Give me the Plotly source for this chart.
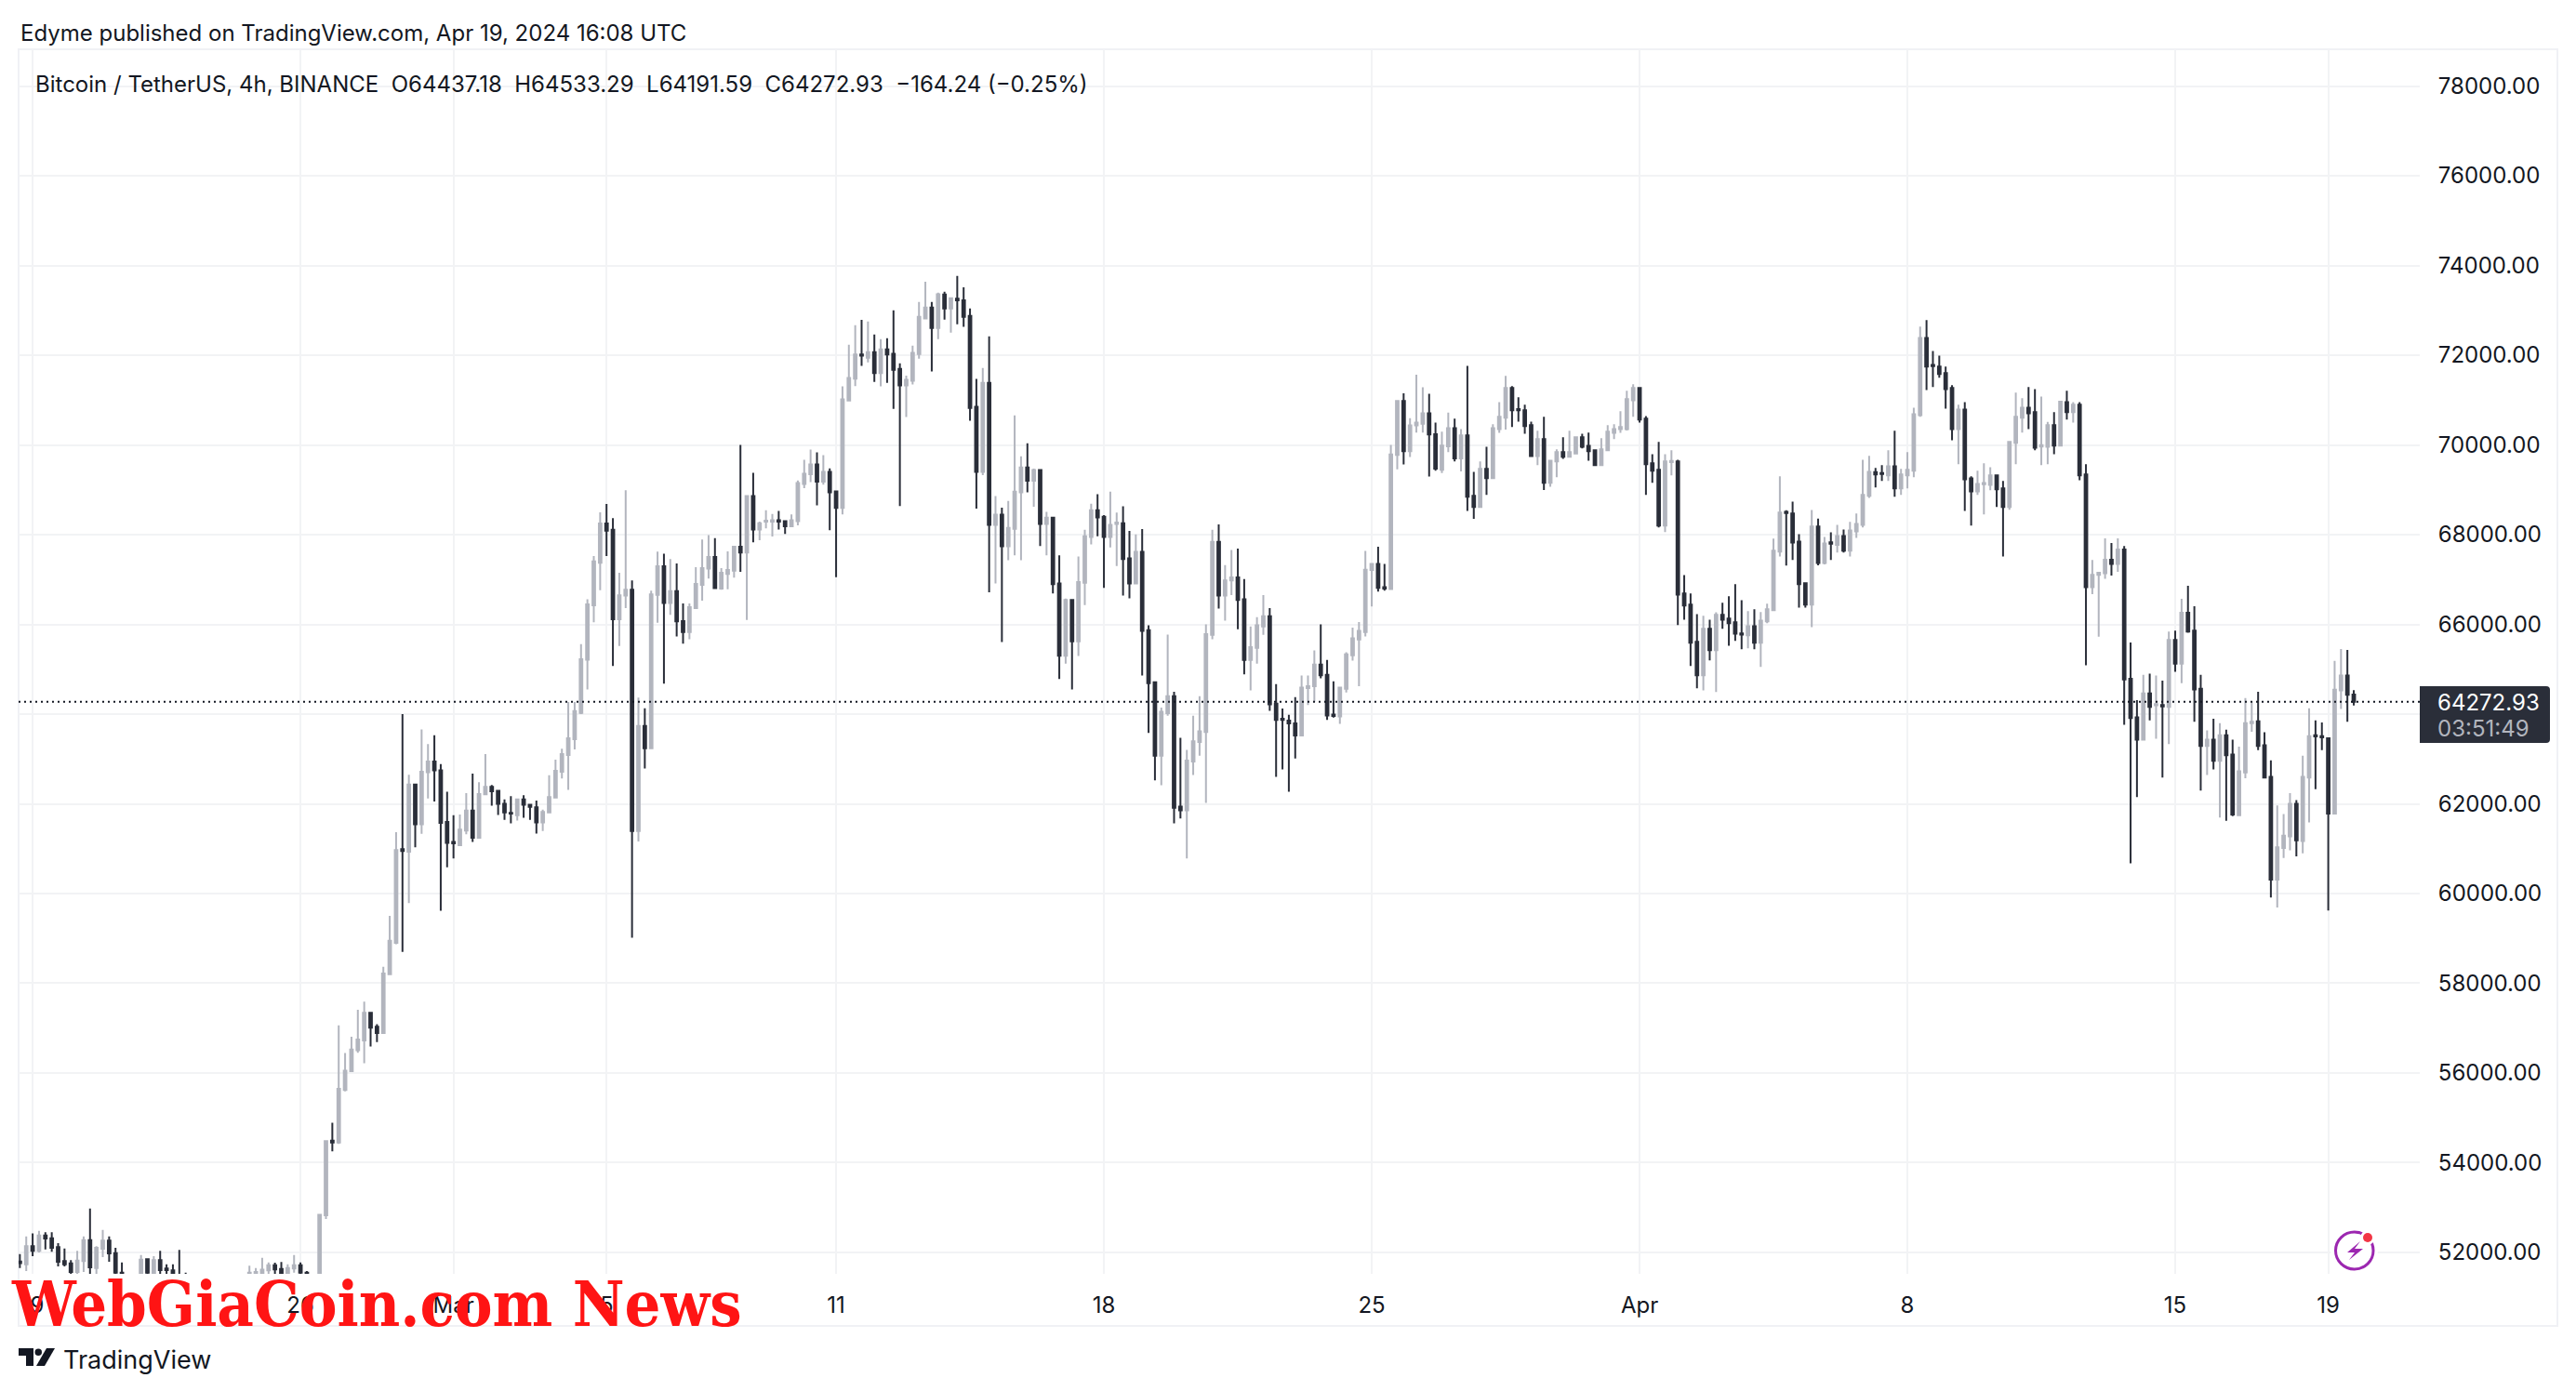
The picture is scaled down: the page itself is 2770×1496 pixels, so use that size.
import pandas as pd
import plotly.graph_objects as go

publish_note = "Edyme published on TradingView.com, Apr 19, 2024 16:08 UTC"
legend_note = "Bitcoin / TetherUS, 4h, BINANCE  O64437.18  H64533.29  L64191.59  C64272.93  \u2212164.24 (\u22120.25%)"
countdown = "03:51:49"
first_candle = "2024-02-18 16:00"

opens = [
51800,51738,52138,52034,52379,52317,52117,51807,51758,51565,
51807,52276,51655,52083,52262,51986,51550,51480,51350,51400,
51848,51450,51827,51641,51600,51480,51490,51440,51200,51320,
51250,51100,51220,51350,51200,51320,51300,51450,51450,51600,
51717,51634,51480,51641,51717,51550,51490,51450,52828,54490,
54448,55620,56040,56510,56725,57340,57030,56890,58200,58900,
60990,60930,62430,61545,62705,62945,62745,61595,61150,61080,
61405,61850,61245,62210,62380,62290,62000,61800,61745,62100,
61980,61920,61585,61810,62140,62715,63090,63440,64025,65215,
66425,67375,68250,68110,66115,66640,66770,61395,63735,63240,
66660,67295,66475,66740,66075,65830,66365,66880,67245,67505,
66800,67125,67195,67730,67600,68860,68115,68290,68290,68320,
68300,68185,68300,69130,69345,69565,69180,69400,68965,68595,
70990,71475,72015,71945,72070,71600,72130,72030,71695,71325,
71430,72025,72820,73060,72605,73350,73040,73260,73225,72875,
70850,69400,71385,68220,68445,67740,68130,68945,69500,69200,
69440,68240,68380,66910,65300,66545,65620,66930,67950,68545,
68400,67950,68240,68255,67470,66910,67615,65870,64710,63075,
64020,64400,61940,61855,62945,63380,63600,65765,67840,66640,
66980,67045,66560,65205,65475,65955,66180,64235,63895,63855,
63795,63525,64580,64620,65105,64875,63990,63950,64565,65310,
65665,65830,67210,67345,66830,66790,69775,70980,69860,70435,
70470,70705,70240,69445,69970,70375,69700,70210,68865,68615,
69465,69260,70355,70605,71270,70800,70770,70440,69750,70130,
69155,69630,69840,69735,69810,70170,69980,69880,69550,69880,
70270,70355,70355,70995,71270,70585,69590,69445,68200,69615,
69630,66690,66440,65610,64865,65900,65425,66210,66130,66045,
65800,65755,65960,65590,66065,66315,67620,68510,68470,67845,
66915,66440,68180,67370,67830,67770,67970,67640,68075,68220,
68865,69395,69375,69320,69525,69030,69320,69425,70665,72385,
71780,71745,71600,71270,70355,70790,69255,68965,69125,69110,
69320,69030,68615,70045,70605,70830,70730,69965,69960,70440,
69985,70955,70730,70895,69340,66830,67105,67140,67440,67345,
67670,64790,63925,63430,64460,64195,64200,64160,65655,65125,
66260,65860,64565,63290,63430,62960,63530,63100,61745,62700,
63800,63840,63305,62600,60310,61015,61275,62000,61170,62585,
63530,63510,63460,61780,64530,64860,64437.18]

highs = [
51965,52358,52427,52483,52448,52448,52207,52090,51827,52034,
52358,52979,52138,52503,52358,52103,51779,51500,51500,51945,
51862,51917,52034,51738,51738,52055,51550,51500,51380,51450,
51400,51300,51420,51480,51400,51460,51703,51655,51883,51779,
51772,51786,51738,51945,51779,51586,51510,52860,54500,54893,
57062,56446,56810,57410,57590,57360,57090,58370,59500,61370,
64000,62650,62450,63660,63330,63530,62885,62270,61745,61760,
62240,62675,62480,63110,62420,62290,62100,62170,62100,62190,
61980,62070,61870,62635,62985,63230,64270,64270,65560,66560,
67525,68495,68685,68370,67150,68990,66980,64370,64130,66750,
67620,67575,67455,67355,66465,66465,67275,67890,67990,67920,
67255,67625,67750,70000,68870,69380,68290,68545,68460,68530,
68320,68450,69205,69670,69895,69835,69770,69475,68965,71305,
72235,72670,72790,72750,72460,72360,72380,73000,71820,71545,
72215,73185,73640,73185,73395,73415,73290,73765,73515,73040,
71470,71715,72420,68860,68600,68750,70660,69745,70036,69470,
69440,68510,68395,67540,66575,66560,67515,68110,68690,68900,
68435,68960,68490,68630,68085,68005,68125,65980,64725,64145,
65770,64495,63470,63200,63965,64400,66000,68110,68230,67320,
67660,67690,67010,65955,66160,66655,66365,64670,64125,63985,
64380,64860,64860,65420,66000,65205,64730,64590,65380,65930,
66050,67635,67345,67730,67345,70000,71000,71150,70595,71565,
71285,71140,70495,70295,70720,70585,70355,71760,69400,69630,
69960,70460,70955,71540,71310,71060,70895,70520,70315,70625,
69650,69900,70170,70315,70185,70250,70275,69880,70150,70440,
70460,70750,71205,71350,71270,70645,69795,70065,69795,69880,
69670,67100,66690,66230,66190,66105,66270,66480,66625,66895,
66540,66295,66335,66275,66460,67910,69300,68545,68735,68010,
66915,68550,68360,67950,68050,68220,68115,68285,68470,69670,
69755,69485,69550,69880,70315,69465,69840,70830,72635,72780,
72095,71990,71745,71330,70895,70955,69300,69425,69590,69505,
69320,69195,70085,71165,71040,71290,71245,71080,70515,70730,
70980,71205,70955,70955,69570,67435,67155,67915,67815,67915,
67745,65595,64310,64875,64900,64860,64745,65840,65860,66570,
66860,66405,64875,63635,63895,63800,63655,63430,63275,64360,
64285,64495,63595,62970,61965,61770,62240,62085,63075,64130,
63860,63815,63460,65185,65450,65430,64533.29]

lows = [
51655,51586,51917,52000,52069,52014,51690,51690,51500,51450,
51565,51300,51500,51897,51793,51300,51300,51200,51250,51300,
51450,51350,51450,51450,51300,51300,51300,51100,51050,51150,
51000,50900,51100,51150,51050,51180,51200,51300,51350,51500,
51500,51350,51300,51550,51450,51300,51300,51400,52745,54255,
54420,55590,56020,56450,56220,56590,56690,56880,58180,58870,
58700,59790,61030,61330,62120,62050,59615,60585,60780,61060,
61320,61150,61240,62200,61960,61750,61640,61565,61625,61690,
61640,61335,61395,61800,62120,62565,62310,63210,64000,64550,
66045,66760,67525,65075,65520,66365,59015,61160,62785,63230,
66035,64680,66215,65730,65570,65670,66350,66530,67020,66810,
66770,66780,67040,67170,66100,67830,67875,68140,67960,68115,
68015,68180,68205,69035,69170,68655,69115,68100,67050,68450,
70990,71310,71760,71840,71405,71305,71385,70805,68635,70620,
71345,71925,72810,71635,72360,72795,72505,72690,72630,70540,
68580,69325,66715,66910,65607,67430,67540,67430,68945,68620,
67745,67540,66690,64780,65125,64550,65295,66430,67780,67965,
66815,67715,67300,66640,66580,66900,64860,63580,62525,62415,
63965,61565,61675,60780,62640,63075,62020,65670,66350,66085,
66655,65890,64885,64530,65125,65765,64070,62600,62765,62270,
63010,63510,64200,64275,64800,63870,63920,63780,64480,65190,
64620,65730,66400,66730,66750,66780,69455,69565,69730,70275,
70275,69295,69425,69375,69840,69630,69410,68530,68350,68610,
68885,69250,70270,70340,70400,70520,70250,69735,69550,68995,
69070,69280,69690,69730,69790,69920,69650,69530,69545,69860,
70130,70270,70320,70625,70500,68885,69155,68160,68055,69320,
65985,66105,65070,64575,64530,65195,64490,65900,65525,65630,
65445,65465,65445,65050,66025,66315,67515,67310,67435,66375,
66375,65940,67315,67335,67435,67600,67600,67515,67930,68160,
68820,69050,69195,69195,68845,68885,69030,69280,70625,71225,
71290,71495,70810,70105,69570,68530,68200,68885,68450,68990,
68615,67515,68555,69570,70275,70355,69880,69550,69570,69795,
69980,70565,70500,69215,65090,66675,65725,67015,67090,67170,
63760,60675,62150,63415,63860,63450,62585,63330,64945,64690,
65815,63830,62295,62640,62765,61695,61620,61725,61725,62570,
63605,63195,62570,59910,59690,60795,60965,60830,60895,61585,
62325,63195,59620,61760,64115,63830,64191.59]

closes = [
51760,52138,52034,52379,52310,52103,51793,51738,51565,51820,
52276,51669,52103,52262,51979,51550,51500,51350,51480,51841,
51550,51827,51607,51607,51500,51400,51440,51200,51320,51250,
51100,51220,51350,51200,51320,51400,51550,51565,51614,51717,
51621,51500,51655,51717,51550,51490,51450,52841,54483,54450,
55650,56050,56525,56745,57340,57010,56890,58220,58950,60970,
60950,62430,61545,62715,62945,62745,61575,61130,61120,61425,
61850,61245,62220,62380,62280,62000,61810,61780,62100,61980,
61930,61585,61820,62150,62735,63110,63460,64065,65225,66445,
67405,68250,68090,66115,66650,66770,61395,63735,63240,66670,
67295,66475,66740,66065,65830,66385,66900,67255,67505,66810,
67150,67215,67730,67600,68860,68115,68255,68310,68320,68290,
68185,68320,69150,69360,69565,69180,69400,68945,68595,71015,
71490,72015,71990,72070,71600,72130,72015,71675,71325,71450,
72050,72855,73060,72605,73360,73040,73270,73225,72855,70825,
69400,71385,68220,68445,67740,68150,68960,69500,69200,69440,
68240,68380,66895,65300,66545,65620,66945,67965,68545,68385,
67950,68220,68270,67455,66910,67615,65855,64690,63075,64050,
64400,61910,61855,62965,63395,63615,65780,67840,66640,66980,
67045,66545,65205,65490,65980,66180,64220,63870,63870,63795,
63525,64590,64620,65105,64865,63970,63960,64590,65330,65690,
65855,67220,67345,66815,66800,69790,70980,69860,70435,70495,
70705,70235,69470,69985,70375,69700,70210,68845,68615,69465,
69260,70375,70625,71270,70770,70770,70420,69750,70130,69155,
69650,69840,69735,69840,70170,69960,69860,69550,69900,70295,
70355,70400,71020,71270,70565,69570,69425,68200,69630,69645,
66665,66420,65590,64865,65900,65425,66210,66105,66025,65795,
65770,65960,65590,66085,66335,67640,68490,68480,67825,66895,
66440,68180,67370,67805,67800,67970,67640,68095,68240,68885,
69400,69340,69350,69525,69030,69340,69445,70685,72385,71745,
71755,71580,71245,70355,70790,69235,68965,69130,69150,69320,
69010,68615,70065,70625,70830,70705,69940,69995,70440,69985,
70965,70730,70895,69320,66830,67105,67150,67440,67345,67670,
64770,63910,63430,64460,64160,64225,64170,65655,65125,66260,
65840,64550,63290,63430,62960,63530,63085,61760,62725,63800,
63830,63290,62585,60310,61030,61290,62000,61185,62600,63510,
63500,63480,61780,64545,64860,64430,64272.93]

tick_dates = ["2024-02-19", "2024-02-26", "2024-03-01", "2024-03-05", "2024-03-11", "2024-03-18",
              "2024-03-25", "2024-04-01", "2024-04-08", "2024-04-15", "2024-04-19"]
tick_labels = ["19", "26", "Mar", "5", "11", "18", "25", "Apr", "8", "15", "19"]
price_ticks = list(range(52000, 78001, 2000))

INK = "#131722"
DARK = "#2a2e39"
LIGHT = "#b2b5be"
GRID = "#f2f3f5"
FRAME = "#f0f1f5"
FONT = "Inter"

# page geometry of the plot area
W, H = 2770, 1496
L, R, T, B = 20, 2602, 53, 1370
def px(x): return (x - L) / (R - L)
def py(y): return (B - y) / (B - T)

dates = pd.date_range(first_candle, periods=len(opens), freq="4h")

fig = go.Figure(go.Candlestick(
    x=dates, open=opens, high=highs, low=lows, close=closes,
    increasing=dict(line=dict(color=LIGHT, width=2), fillcolor=LIGHT),
    decreasing=dict(line=dict(color=DARK, width=2), fillcolor=DARK),
    whiskerwidth=0, showlegend=False, name="BTCUSDT",
))

shapes = [
    # outer frame of the chart
    dict(type="rect", xref="paper", yref="paper", x0=px(20), x1=px(2750), y0=py(1426), y1=py(53),
         line=dict(color=FRAME, width=2), fillcolor="rgba(0,0,0,0)", layer="below"),
    # last price line
    dict(type="line", xref="paper", yref="y", x0=0, x1=1, y0=closes[-1], y1=closes[-1],
         line=dict(color=INK, width=2, dash="2px,4px"), layer="above"),
    # last price tag
    dict(type="path", xref="paper", yref="paper", layer="above", fillcolor=DARK, line=dict(width=0),
         path=f"M {px(2602)} {py(738)} L {px(2738)} {py(738)} Q {px(2742)} {py(738)} {px(2742)} {py(742)} "
              f"L {px(2742)} {py(795)} Q {px(2742)} {py(799)} {px(2738)} {py(799)} L {px(2602)} {py(799)} Z"),
    # TradingView logo
    dict(type="path", xref="paper", yref="paper", layer="above", fillcolor=INK, line=dict(width=0),
         path=f"M {px(20)} {py(1450)} L {px(36)} {py(1450)} L {px(36)} {py(1469)} L {px(28)} {py(1469)} "
              f"L {px(28)} {py(1458)} L {px(20)} {py(1458)} Z"),
    dict(type="circle", xref="paper", yref="paper", layer="above", fillcolor=INK, line=dict(width=0),
         x0=px(37.5), x1=px(45), y0=py(1458), y1=py(1450.5)),
    dict(type="path", xref="paper", yref="paper", layer="above", fillcolor=INK, line=dict(width=0),
         path=f"M {px(50)} {py(1450)} L {px(59)} {py(1450)} L {px(48)} {py(1469)} L {px(39)} {py(1469)} Z"),
    # lightning badge
    dict(type="circle", xref="paper", yref="paper", layer="above", fillcolor="white", line=dict(width=0),
         x0=px(2506), x1=px(2557), y0=py(1370), y1=py(1320)),
    dict(type="circle", xref="paper", yref="paper", layer="above", fillcolor="white", line=dict(color="#9c27b0", width=3),
         x0=px(2511.5), x1=px(2552), y0=py(1365), y1=py(1325)),
    dict(type="circle", xref="paper", yref="paper", layer="above", fillcolor="white", line=dict(width=0),
         x0=px(2538), x1=px(2553.5), y0=py(1339), y1=py(1323.5)),
    dict(type="circle", xref="paper", yref="paper", layer="above", fillcolor="#f23645", line=dict(width=0),
         x0=px(2541), x1=px(2551), y0=py(1336), y1=py(1326)),
    dict(type="path", xref="paper", yref="paper", layer="above", fillcolor="#9c27b0", line=dict(width=0),
         path=f"M {px(2538)} {py(1335)} L {px(2524)} {py(1347)} L {px(2532)} {py(1347)} L {px(2526)} {py(1355)} "
              f"L {px(2541)} {py(1343)} L {px(2532)} {py(1343)} Z"),
]

def note(text, x, y, size=24, color=INK, **kw):
    return dict(text=text, x=px(x), y=py(y), xref="paper", yref="paper", xanchor="left", yanchor="middle",
                showarrow=False, align="left", font=dict(family=FONT, size=size, color=color, **kw))

annotations = [
    note(publish_note, 20, 35, size=24),
    note(legend_note, 36, 90, size=24),
    note(f"{closes[-1]:.2f}", 2619, 755, size=24, color="#ffffff"),
    note(countdown, 2619, 783, size=24, color=LIGHT),
    note("TradingView", 66, 1462, size=27),
    dict(text="<b>WebGiaCoin.com News</b>", x=px(10), y=py(1402), xref="paper", yref="paper",
         xanchor="left", yanchor="middle", showarrow=False,
         font=dict(family="DejaVu Serif Condensed", size=68, color="#ff1414")),
]

fig.update_layout(
    width=W, height=H, autosize=False,
    margin=dict(l=L, r=W - R, t=T, b=H - B, pad=0),
    paper_bgcolor="white", plot_bgcolor="white",
    boxgap=0.42,
    font=dict(family=FONT, size=24, color=INK),
    hovermode=False, dragmode=False,
    shapes=shapes, annotations=annotations,
    xaxis=dict(
        type="date", rangeslider=dict(visible=False),
        range=["2024-02-18 15:12", "2024-04-21 09:24"],
        tickmode="array", tickvals=tick_dates, ticktext=tick_labels,
        showgrid=True, gridcolor=GRID, gridwidth=2, zeroline=False, showline=False,
        ticks="outside", ticklen=12, tickcolor="rgba(0,0,0,0)",
        tickfont=dict(family=FONT, size=24, color=INK),
    ),
    yaxis=dict(
        side="right", range=[51523, 78819],
        tickmode="array", tickvals=price_ticks,
        ticktext=["" if abs(v - closes[-1]) < 1000 else f"{v:.2f}" for v in price_ticks],
        showgrid=True, gridcolor=GRID, gridwidth=2, zeroline=False, showline=False,
        ticks="outside", ticklen=14, tickcolor="rgba(0,0,0,0)",
        tickfont=dict(family=FONT, size=24, color=INK),
    ),
)

fig.write_html("out.html", post_script="document.body.style.margin='0';document.body.style.overflow='hidden';",
               config=dict(displayModeBar=False, responsive=False))
